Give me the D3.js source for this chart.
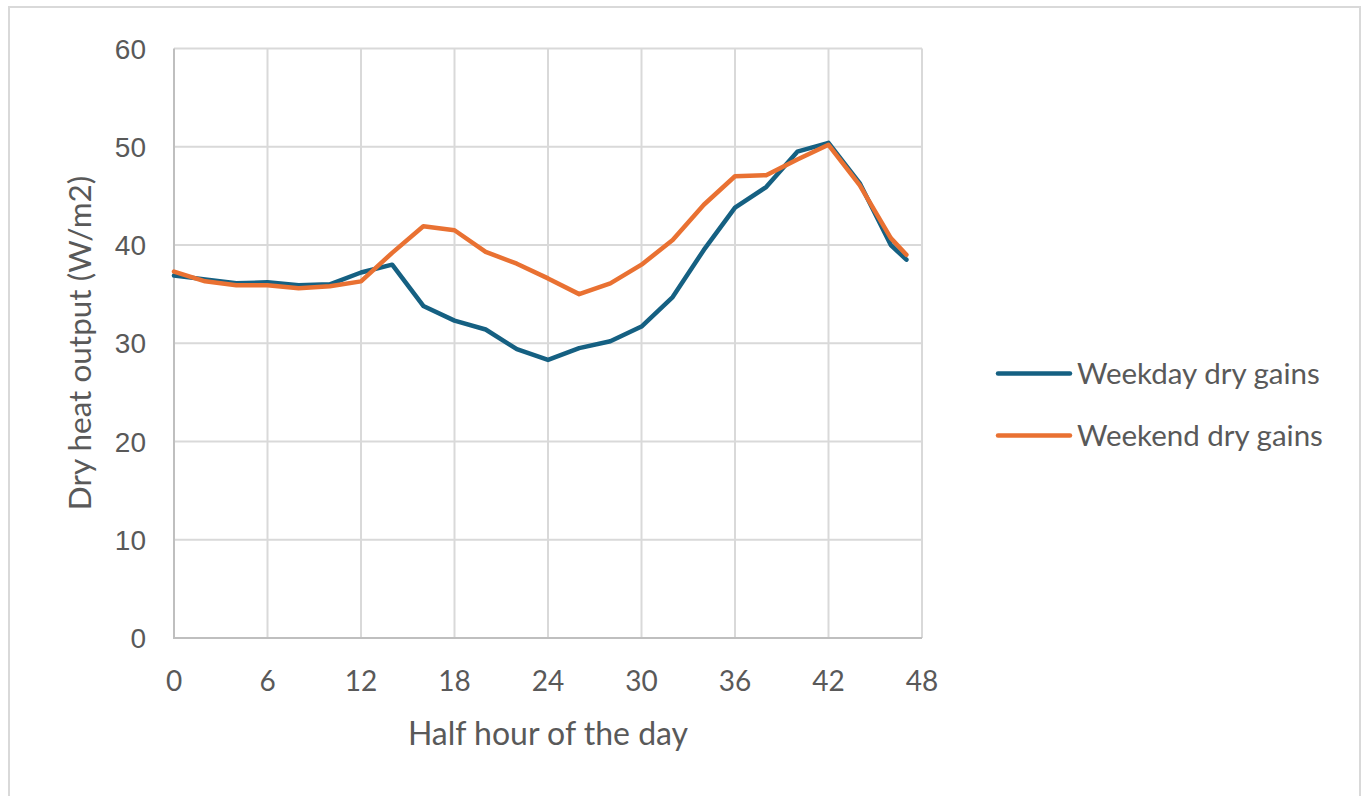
<!DOCTYPE html>
<html>
<head>
<meta charset="utf-8">
<script src="https://cdn.jsdelivr.net/npm/d3@7"></script>
<style>
  html, body { margin: 0; padding: 0; background: #fff; }
  svg { display: block; }
</style>
</head>
<body>
<svg id="chart" width="1367" height="796"></svg>
<script>
// ---- data ----
const halfHours = [0, 2, 4, 6, 8, 10, 12, 14, 16, 18, 20, 22, 24, 26, 28, 30, 32, 34, 36, 38, 40, 42, 44, 46, 47];
const weekday = [36.9, 36.5, 36.1, 36.2, 35.9, 36.0, 37.2, 38.0, 33.8, 32.3, 31.4, 29.4, 28.3, 29.5, 30.2, 31.7, 34.7, 39.5, 43.8, 45.9, 49.5, 50.4, 46.3, 40.0, 38.5];
const weekend = [37.3, 36.3, 35.9, 35.9, 35.6, 35.8, 36.3, 39.2, 41.9, 41.5, 39.3, 38.1, 36.6, 35.0, 36.1, 38.0, 40.5, 44.1, 47.0, 47.1, 48.7, 50.2, 46.1, 40.7, 39.0];
const xTicks = [0, 6, 12, 18, 24, 30, 36, 42, 48];
const yTicks = [0, 10, 20, 30, 40, 50, 60];
const seriesNames = ["Weekday dry gains", "Weekend dry gains"];
const seriesColors = ["#156082", "#E97132"];

(function () {
const svg = d3.select("#chart");
const textColor = "#595959";

// outer frame
svg.append("rect").attr("x", 9).attr("y", 7).attr("width", 1351).attr("height", 800)
  .attr("fill", "#fff").attr("stroke", "#d9d9d9").attr("stroke-width", 2);

const pLeft = 174, pRight = 922, pTop = 48.5, pBottom = 638;
const x = d3.scaleLinear().domain([0, 48]).range([pLeft, pRight]);
const y = d3.scaleLinear().domain([0, 60]).range([pBottom, pTop]);

// gridlines
const grid = svg.append("g");
grid.selectAll("line.h").data(yTicks.filter(d => d > 0)).join("line")
  .attr("x1", pLeft).attr("x2", pRight).attr("y1", d => y(d)).attr("y2", d => y(d))
  .attr("stroke", "#d9d9d9").attr("stroke-width", 2);
grid.selectAll("line.v").data(xTicks.filter(d => d > 0)).join("line")
  .attr("y1", pTop).attr("y2", pBottom).attr("x1", d => x(d)).attr("x2", d => x(d))
  .attr("stroke", "#d9d9d9").attr("stroke-width", 2);

// axis lines
svg.append("line").attr("x1", pLeft).attr("x2", pLeft).attr("y1", pTop).attr("y2", pBottom + 1)
  .attr("stroke", "#bfbfbf").attr("stroke-width", 2);
svg.append("line").attr("x1", pLeft - 1).attr("x2", pRight).attr("y1", pBottom).attr("y2", pBottom)
  .attr("stroke", "#bfbfbf").attr("stroke-width", 2);

// y tick labels
svg.append("g").selectAll("text").data(yTicks).join("text")
  .attr("x", 146).attr("y", d => y(d)).attr("dy", "0.36em")
  .attr("text-anchor", "end")
  .attr("font-family", "'Liberation Sans', Arial, sans-serif").attr("font-size", 28)
  .attr("fill", textColor).text(d => d);

// x tick labels
svg.append("g").selectAll("text").data(xTicks).join("text")
  .attr("x", d => x(d)).attr("y", 691)
  .attr("text-anchor", "middle")
  .attr("font-family", "Lato, sans-serif").attr("font-size", 28)
  .attr("fill", textColor).text(d => d);

// axis titles
svg.append("text").attr("x", (pLeft + pRight) / 2).attr("y", 745)
  .attr("text-anchor", "middle").attr("font-family", "Lato, sans-serif").attr("font-size", 32)
  .attr("fill", textColor).text("Half hour of the day");
svg.append("text").attr("transform", `translate(91,${(173 + 513) / 2}) rotate(-90)`)
  .attr("text-anchor", "middle").attr("font-family", "Lato, sans-serif").attr("font-size", 31.5)
  .attr("fill", textColor).text("Dry heat output (W/m2)");

// lines
const line = d3.line().x(d => x(d[0])).y(d => y(d[1]));
[weekday, weekend].forEach((vals, i) => {
  svg.append("path").datum(halfHours.map((h, j) => [h, vals[j]]))
    .attr("d", line).attr("fill", "none")
    .attr("stroke", seriesColors[i]).attr("stroke-width", 4.5)
    .attr("stroke-linejoin", "round").attr("stroke-linecap", "round");
});

// legend
const legY = [373.5, 435.5];
const leg = svg.append("g");
seriesNames.forEach((name, i) => {
  leg.append("line").attr("x1", 998).attr("x2", 1070).attr("y1", legY[i]).attr("y2", legY[i])
    .attr("stroke", seriesColors[i]).attr("stroke-width", 4.5).attr("stroke-linecap", "round");
  leg.append("text").attr("x", 1077).attr("y", legY[i] + 10)
    .attr("font-family", "Lato, sans-serif").attr("font-size", 29.5)
    .attr("fill", textColor).text(name);
});
})();
</script>
</body>
</html>
